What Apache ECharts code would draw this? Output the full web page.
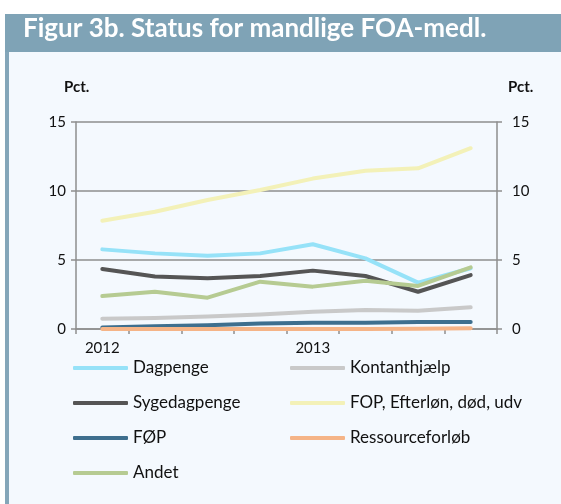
<!DOCTYPE html>
<html>
<head>
<meta charset="utf-8">
<script src="https://cdn.jsdelivr.net/npm/echarts@6/dist/echarts.min.js"></script>
<style>
  html, body { margin: 0; padding: 0; background: #ffffff; }
  #chart { width: 561px; height: 504px; }
</style>
</head>
<body>
<div id="chart"></div>
<script>
// kvartaler 2012-2013
const quarters = ['2012K1','2012K2','2012K3','2012K4','2013K1','2013K2','2013K3','2013K4'];
const tickLabels = ['2012','','','','2013','','',''];

const dagpenge = [5.77, 5.48, 5.31, 5.48, 6.14, 5.12, 3.36, 4.4];
const kontanthjaelp = [0.75, 0.8, 0.9, 1.05, 1.25, 1.38, 1.33, 1.57];
const sygedagpenge = [4.35, 3.8, 3.67, 3.84, 4.23, 3.84, 2.7, 3.91];
const fop = [7.85, 8.5, 9.35, 10.07, 10.9, 11.47, 11.64, 13.1];
const foep = [0.1, 0.2, 0.28, 0.4, 0.45, 0.45, 0.5, 0.5];
const ressource = [0, 0, 0, 0, 0, 0, 0.02, 0.05];
const andet = [2.39, 2.7, 2.27, 3.43, 3.07, 3.5, 3.12, 4.47];

const yTicks = [0, 5, 10, 15];

const font = 'Lato';
const grey = '#8e8e8e';

function line(name, data, color) {
  return {
    name: name,
    type: 'line',
    data: data,
    color: color,
    symbol: 'none',
    smooth: false,
    lineStyle: { width: 4, color: color, cap: 'round', join: 'round' }
  };
}

const legendText = { fontSize: 17, color: '#111', lineHeight: 20, fontFamily: font };

const chart = echarts.init(document.getElementById('chart'));
chart.setOption({
  animation: false,
  backgroundColor: '#ffffff',
  textStyle: { fontFamily: font },
  graphic: [
    { type: 'rect', z: -10, shape: { x: 9, y: 52, width: 552, height: 452 }, style: { fill: '#f4f9fe' } },
    { type: 'rect', z: -10, shape: { x: 5, y: 14, width: 556, height: 38 }, style: { fill: '#7fa3b6' } },
    { type: 'rect', z: -10, shape: { x: 5, y: 52, width: 4, height: 452 }, style: { fill: '#84a6b9' } },
    { type: 'text', left: 23, top: 16, style: { text: 'Figur 3b. Status for mandlige FOA-medl.', fill: '#ffffff', font: '700 26px Lato' } },
    { type: 'text', left: 64, top: 80, style: { text: 'Pct.', fill: '#111', font: '700 15px Lato' } },
    { type: 'text', left: 508, top: 80, style: { text: 'Pct.', fill: '#111', font: '700 15px Lato' } }
  ],
  grid: { left: 76, right: 64, top: 122, bottom: 175 },
  legend: [
    {
      data: ['Dagpenge', 'Sygedagpenge', 'FØP', 'Andet'],
      orient: 'vertical', left: 73, top: 358, itemGap: 15, padding: 0,
      icon: 'roundRect', itemWidth: 55, itemHeight: 4,
      textStyle: legendText
    },
    {
      data: ['Kontanthjælp', 'FOP, Efterløn, død, udv', 'Ressourceforløb'],
      orient: 'vertical', left: 290, top: 358, itemGap: 15, padding: 0,
      icon: 'roundRect', itemWidth: 55, itemHeight: 4,
      textStyle: legendText
    }
  ],
  xAxis: {
    type: 'category',
    data: quarters,
    boundaryGap: true,
    axisLine: { lineStyle: { color: grey, width: 1.5 } },
    axisTick: { show: true, interval: 0, length: 5, lineStyle: { color: grey, width: 1.5 } },
    axisLabel: {
      interval: 0, margin: 12, fontSize: 15, color: '#111',
      formatter: (v, i) => tickLabels[i]
    }
  },
  yAxis: [
    {
      type: 'value', min: 0, max: 15, interval: 5,
      axisLine: { show: true, lineStyle: { color: grey, width: 1.5 } },
      axisTick: { show: true, length: 5, lineStyle: { color: grey, width: 1.5 } },
      axisLabel: { margin: 10, fontSize: 15, color: '#111', formatter: v => yTicks.includes(v) ? String(v) : '' },
      splitLine: { show: true, lineStyle: { color: grey, width: 1.5 } }
    },
    {
      type: 'value', min: 0, max: 15, interval: 5, position: 'right',
      axisLine: { show: true, lineStyle: { color: grey, width: 1.5 } },
      axisTick: { show: true, length: 5, lineStyle: { color: grey, width: 1.5 } },
      axisLabel: { margin: 15, fontSize: 15, color: '#111' },
      splitLine: { show: false }
    }
  ],
  series: [
    line('Dagpenge', dagpenge, '#96e2f8'),
    line('Kontanthjælp', kontanthjaelp, '#c9c9c9'),
    line('Sygedagpenge', sygedagpenge, '#555555'),
    line('FOP, Efterløn, død, udv', fop, '#f3f1b8'),
    line('FØP', foep, '#3e6f8e'),
    line('Ressourceforløb', ressource, '#f5b487'),
    line('Andet', andet, '#b6cb92')
  ]
});
</script>
</body>
</html>
